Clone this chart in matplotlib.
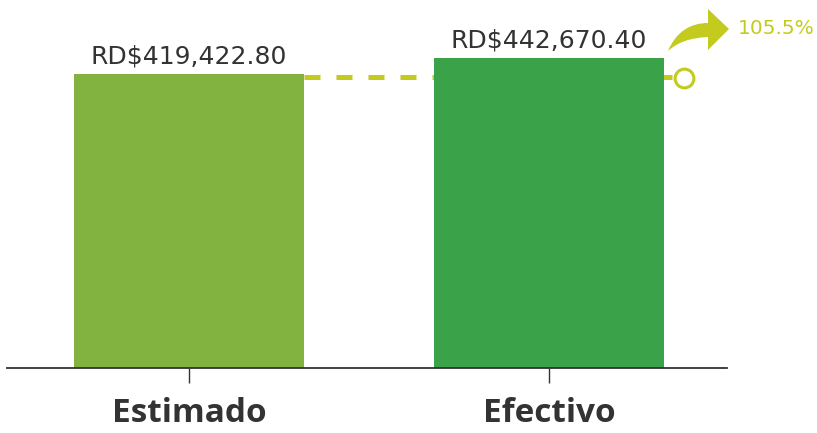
import matplotlib.pyplot as plt
from matplotlib.patches import PathPatch
from matplotlib.path import Path

categorias = ["Estimado", "Efectivo"]
montos = [419422.80, 442670.40]
etiquetas = ["RD$419,422.80", "RD$442,670.40"]
variacion = "105.5%"

colores = ["#82b341", "#3aa34a"]
lima = "#c3cb1f"
texto = "#333333"

W, H = 817, 433
fig = plt.figure(figsize=(W / 100, H / 100), dpi=100)
ax = fig.add_axes([7 / W, 1 - 368 / H, 720 / W, 368 / H])

x = list(range(len(categorias)))
ax.bar(x, montos, width=0.64, color=colores, zorder=2)
for xi, m, lab in zip(x, montos, etiquetas):
    ax.annotate(lab, (xi, m), xytext=(0, 7.5), textcoords="offset points",
                ha="center", va="baseline", fontsize=18, color=texto,
                family="DejaVu Sans")

ax.set_xlim(-0.506, 1.494)
ax.set_ylim(0, 525000)

# linea punteada desde el estimado hasta el circulo
ax.plot([0.32, 1.37], [montos[0] - 4000] * 2, color=lima, lw=3.6,
        dashes=(3.2, 3.2), zorder=1, solid_capstyle="butt")
ax.plot([1.375], [montos[0] - 5000], marker="o", ms=13.5, mfc="white",
        mec=lima, mew=2.2, zorder=3, clip_on=False)

for s in ["top", "right", "left"]:
    ax.spines[s].set_visible(False)
ax.spines["bottom"].set_color(texto)
ax.spines["bottom"].set_linewidth(1.3)
ax.set_yticks([])
ax.set_xticks(x)
ax.set_xticklabels(categorias, fontsize=24, fontweight="bold", color=texto,
                   family="Open Sans")
ax.tick_params(axis="x", length=11, width=1, color=texto, pad=10)

# flecha curva
def px(xp, yp):
    return (xp / W, 1 - yp / H)

verts = [px(668, 51), px(676, 32), px(690, 23), px(708, 23),
         px(708, 9), px(729, 29), px(708, 50),
         px(708, 37), px(690, 38), px(678, 42), px(668, 51)]
codes = [Path.MOVETO, Path.CURVE4, Path.CURVE4, Path.CURVE4,
         Path.LINETO, Path.LINETO, Path.LINETO,
         Path.LINETO, Path.CURVE4, Path.CURVE4, Path.CURVE4]
fig.patches.append(PathPatch(Path(verts, codes), facecolor=lima,
                             edgecolor="none", transform=fig.transFigure))
fig.text(738 / W, 1 - 29 / H, variacion, color=lima, fontsize=14.5,
         va="center", ha="left", family="DejaVu Sans")

fig.savefig("out.png", dpi=100)
